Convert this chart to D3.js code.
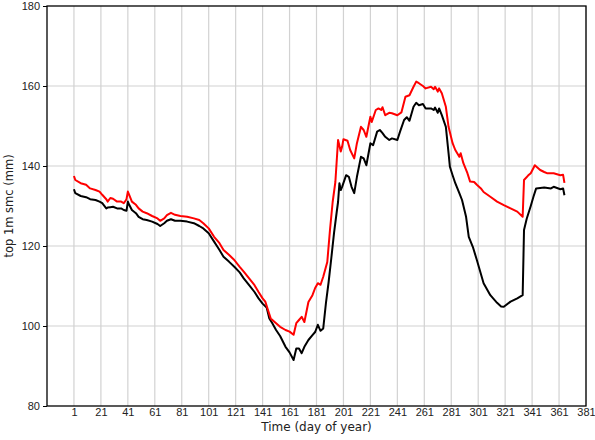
<!DOCTYPE html>
<html>
<head>
<meta charset="utf-8">
<script src="https://cdn.jsdelivr.net/npm/d3@7"></script>
<style>
  body { margin: 0; background: #fff; }
  svg { font-family: "DejaVu Sans", sans-serif; }
</style>
</head>
<body>
<svg id="chart" width="595" height="440"></svg>
<script>
const blackDays = [1, 2, 6, 10, 13, 17, 20, 22, 25, 26, 28, 30, 33, 36, 38, 40, 41, 42, 44, 47, 49, 52, 55, 59, 63, 65, 68, 70, 73, 76, 80, 85, 90, 94, 97, 101, 105, 109, 112, 116, 120, 124, 127, 131, 135, 138, 141, 144, 146, 148, 151, 154, 158, 161, 164, 166, 168, 170, 172, 175, 178, 180, 182, 184, 186, 188, 190, 192, 194, 196, 197, 198, 199, 200, 203, 205, 207, 209, 211, 214, 216, 218, 221, 223, 226, 228, 230, 232, 235, 237, 241, 243, 246, 248, 250, 253, 255, 257, 260, 262, 266, 268, 269, 271, 272, 274, 277, 279, 280, 282, 284, 287, 289, 292, 294, 297, 300, 305, 310, 315, 318, 320, 325, 330, 334, 335, 337, 340, 342, 344, 350, 355, 357, 362, 364, 365];
const blackSmc = [134.2, 133.2, 132.5, 132.2, 131.7, 131.5, 131.1, 130.7, 129.4, 129.6, 129.7, 129.8, 129.4, 129.4, 129.0, 128.8, 131.1, 130.3, 129.0, 128.2, 127.3, 126.7, 126.5, 126.1, 125.5, 125.0, 125.7, 126.3, 126.7, 126.3, 126.3, 126.1, 125.7, 125.0, 124.4, 123.2, 121.1, 119.0, 117.3, 116.1, 114.8, 113.4, 111.9, 110.2, 108.5, 106.9, 105.6, 104.6, 101.9, 100.8, 99.0, 97.5, 94.8, 93.4, 91.5, 94.4, 94.4, 93.2, 94.8, 96.5, 97.7, 98.5, 100.3, 98.8, 99.4, 105.7, 111.0, 117.0, 123.2, 128.5, 131.0, 135.7, 134.0, 134.8, 137.7, 137.3, 134.8, 133.2, 137.3, 142.3, 141.9, 140.2, 145.7, 145.2, 148.6, 149.0, 148.2, 147.3, 146.5, 146.9, 146.5, 148.6, 151.5, 152.2, 151.3, 154.8, 155.8, 155.2, 155.5, 154.4, 154.4, 154.0, 154.6, 153.3, 154.4, 152.7, 149.8, 143.2, 139.8, 137.7, 135.7, 133.2, 131.5, 127.3, 122.3, 119.8, 116.5, 110.7, 107.7, 105.8, 104.9, 104.8, 106.1, 106.9, 107.7, 124.0, 126.8, 130.0, 132.3, 134.4, 134.6, 134.4, 134.8, 134.2, 134.4, 132.7];

const redDays = [1, 2, 6, 10, 13, 17, 20, 22, 25, 26, 28, 30, 33, 36, 38, 40, 41, 42, 44, 47, 49, 52, 55, 59, 63, 65, 68, 70, 73, 76, 80, 85, 90, 94, 97, 101, 105, 109, 112, 116, 120, 124, 127, 131, 135, 138, 141, 143, 145, 147, 151, 154, 158, 161, 164, 166, 168, 170, 172, 175, 178, 180, 182, 184, 186, 189, 191, 193, 195, 197, 199, 200, 201, 204, 206, 209, 211, 214, 216, 218, 220, 221, 222, 225, 227, 229, 230, 232, 235, 237, 241, 244, 247, 250, 253, 255, 257, 260, 262, 266, 268, 269, 271, 272, 274, 277, 279, 282, 284, 287, 288, 290, 293, 295, 298, 300, 303, 305, 310, 315, 320, 325, 330, 334, 335, 338, 340, 342, 343, 347, 350, 352, 357, 362, 364, 365];
const redSmc = [137.5, 136.5, 135.7, 135.3, 134.4, 134.0, 133.6, 132.8, 131.7, 131.1, 132.0, 131.8, 131.1, 131.1, 130.7, 131.7, 133.6, 132.8, 131.1, 130.3, 129.4, 128.6, 128.2, 127.5, 126.9, 126.3, 126.9, 127.7, 128.3, 127.8, 127.5, 127.3, 126.9, 126.5, 125.7, 124.4, 122.3, 120.7, 119.0, 117.8, 116.5, 114.8, 113.6, 111.9, 110.2, 108.5, 106.9, 106.1, 104.0, 101.9, 100.7, 99.8, 99.0, 98.6, 97.8, 100.7, 101.5, 102.3, 101.0, 106.0, 107.7, 109.5, 110.7, 110.3, 112.3, 116.0, 124.0, 131.0, 136.0, 146.5, 143.6, 144.8, 146.7, 146.3, 144.0, 141.9, 145.7, 149.8, 149.0, 147.3, 150.7, 152.3, 151.0, 154.0, 154.4, 154.0, 154.7, 152.7, 153.3, 153.2, 152.7, 153.4, 157.3, 157.7, 159.8, 161.1, 160.7, 160.0, 159.4, 159.8, 159.2, 159.8, 158.6, 159.4, 158.2, 154.8, 149.8, 145.7, 144.0, 142.3, 143.2, 140.7, 138.2, 136.1, 136.0, 135.3, 134.4, 133.5, 132.3, 131.1, 130.2, 129.4, 128.6, 127.3, 136.5, 137.6, 138.2, 139.5, 140.2, 139.0, 138.5, 138.2, 138.2, 137.7, 137.8, 135.8];

const xTicks = d3.range(1, 382, 20);
const yTicks = [80, 100, 120, 140, 160, 180];

const margin = { top: 6, right: 9, bottom: 34, left: 47 };
const width = 595;
const height = 440;

const svg = d3.select("#chart");

const x = d3.scaleLinear()
  .domain([-19, 381])
  .range([margin.left, width - margin.right]);

const y = d3.scaleLinear()
  .domain([80, 180])
  .range([height - margin.bottom, margin.top]);

// grid
svg.append("g")
  .selectAll("line")
  .data(xTicks)
  .join("line")
  .attr("x1", d => x(d)).attr("x2", d => x(d))
  .attr("y1", y(80)).attr("y2", y(180))
  .attr("stroke", "#d2d2d2")
  .attr("stroke-width", 1.2);

svg.append("g")
  .selectAll("line")
  .data(yTicks.slice(1, -1))
  .join("line")
  .attr("x1", x(-19)).attr("x2", x(381))
  .attr("y1", d => y(d)).attr("y2", d => y(d))
  .attr("stroke", "#d2d2d2")
  .attr("stroke-width", 1.2);

const line = d3.line()
  .x(d => x(d[0]))
  .y(d => y(d[1]));

svg.append("path")
  .datum(d3.zip(blackDays, blackSmc))
  .attr("fill", "none")
  .attr("stroke", "#000")
  .attr("stroke-width", 2)
  .attr("stroke-linejoin", "round")
  .attr("d", line);

svg.append("path")
  .datum(d3.zip(redDays, redSmc))
  .attr("fill", "none")
  .attr("stroke", "#ff0000")
  .attr("stroke-width", 2)
  .attr("stroke-linejoin", "round")
  .attr("d", line);

// axes
const xAxis = d3.axisBottom(x).tickValues(xTicks).tickSize(0).tickPadding(2);
const yAxis = d3.axisLeft(y).tickValues(yTicks).tickSize(4).tickPadding(3);

const gx = svg.append("g")
  .attr("transform", `translate(0, ${y(80)})`)
  .call(xAxis);
gx.select(".domain").remove();
gx.selectAll("text").attr("font-size", 11).attr("fill", "#222");

const gy = svg.append("g")
  .attr("transform", `translate(${x(-19)}, 0)`)
  .call(yAxis);
gy.select(".domain").remove();
gy.selectAll("text").attr("font-size", 11).attr("fill", "#222");

// frame
svg.append("rect")
  .attr("x", x(-19))
  .attr("y", y(180))
  .attr("width", x(381) - x(-19))
  .attr("height", y(80) - y(180))
  .attr("fill", "none")
  .attr("stroke", "#000")
  .attr("stroke-width", 1.3);

svg.append("text")
  .attr("x", (x(-19) + x(381)) / 2)
  .attr("y", 431)
  .attr("text-anchor", "middle")
  .attr("font-size", 12)
  .attr("fill", "#222")
  .text("Time (day of year)");

svg.append("text")
  .attr("transform", `translate(13, ${(y(80) + y(180)) / 2}) rotate(-90)`)
  .attr("text-anchor", "middle")
  .attr("font-size", 11.5)
  .attr("fill", "#222")
  .text("top 1m smc (mm)");
</script>
</body>
</html>
